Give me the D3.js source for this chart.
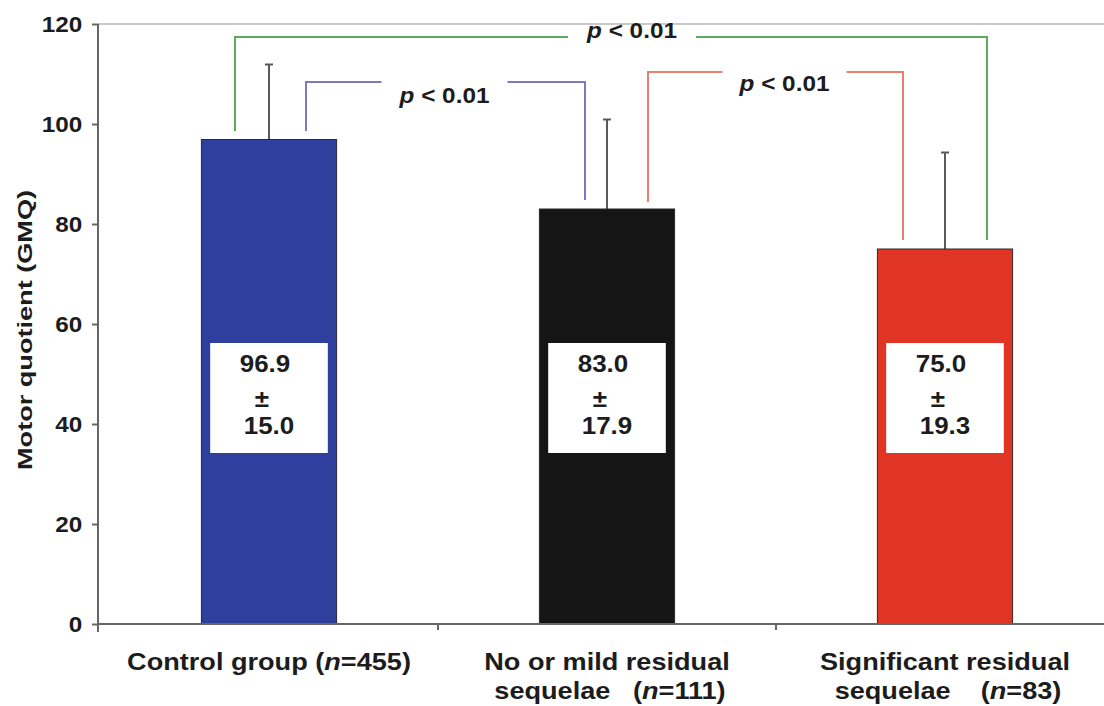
<!DOCTYPE html>
<html>
<head>
<meta charset="utf-8">
<script src="https://cdn.jsdelivr.net/npm/d3@7/dist/d3.min.js"></script>
<style>
  html, body { margin: 0; padding: 0; background: #fff; }
  svg { display: block; }
  text { font-family: "Liberation Sans", Arial, Helvetica, sans-serif; font-weight: bold; fill: #1c1c1c; }
</style>
</head>
<body>
<svg id="chart" width="1104" height="706"></svg>
<script>
// Group means and standard deviations of the gross motor quotient
const groups = ["control", "mild", "significant"];
const labelLines = [
  [["Control group (", "n", "=455)"]],
  [["No or mild residual"], ["sequelae   (", "n", "=111)"]],
  [["Significant residual"], ["sequelae    (", "n", "=83)"]]
];
const means = [96.9, 83.0, 75.0];
const sds = [15.0, 17.9, 19.3];
const barColors = ["#2e3f9e", "#151515", "#e03424"];
const yTicks = [0, 20, 40, 60, 80, 100, 120];
// Pairwise comparisons: [left group, right group, label]
const comparisons = [
  ["control", "significant", "< 0.01"],
  ["control", "mild", "< 0.01"],
  ["mild", "significant", "< 0.01"]
];

// Bracket geometry (values in GMQ units, offsets in px from bar centres)
const bracketLayout = [
  { color: "#5aac5c", top: 117.4, lowL: 98.6, lowR: 76.8, dxL: -34, dxR: 42, gap: 64, labelDx: 21, labelDy: 1 },
  { color: "#7a7abd", top: 108.4, lowL: 98.6, lowR: 84.8, dxL: 37, dxR: -22, gap: 63, labelDx: -1, labelDy: 21 },
  { color: "#e8806e", top: 110.4, lowL: 84.4, lowR: 76.8, dxL: 41, dxR: -42, gap: 62, labelDx: 9, labelDy: 19 }
];

const svg = d3.select("#chart");
const SX = 1.13; // horizontal text stretch

const x = d3.scaleBand().domain(groups).range([100, 1114]).padding(0);
const y = d3.scaleLinear().domain([0, 120]).range([624, 24]);
const barW = x.bandwidth() * 0.4;
const cx = g => x(g) + x.bandwidth() / 2;

// gridline at the top of the scale
svg.append("line")
  .attr("x1", 98).attr("x2", 1104)
  .attr("y1", y(120)).attr("y2", y(120))
  .attr("stroke", "#c9c9c9").attr("stroke-width", 2);

// brackets
comparisons.forEach((c, i) => {
  const L = bracketLayout[i];
  const xl = cx(c[0]) + L.dxL, xr = cx(c[1]) + L.dxR;
  const mid = (xl + xr) / 2 + L.labelDx;
  const g = svg.append("g");
  const yt = y(L.top);
  g.append("path")
    .attr("d", `M${xl},${y(L.lowL)}V${yt}H${mid - L.gap}`)
    .attr("fill", "none").attr("stroke", L.color).attr("stroke-width", 2);
  g.append("path")
    .attr("d", `M${mid + L.gap},${yt}H${xr}V${y(L.lowR)}`)
    .attr("fill", "none").attr("stroke", L.color).attr("stroke-width", 2);
  const t = g.append("g").attr("transform", `translate(${mid},${yt + L.labelDy}) scale(${SX},1)`)
    .append("text").attr("text-anchor", "middle").style("font-size", "21.5px");
  t.append("tspan").style("font-style", "italic").text("p");
  t.append("tspan").text(" " + c[2]);
});

// error bars (upper only)
groups.forEach((g, i) => {
  const xc = cx(g);
  svg.append("line").attr("x1", xc).attr("x2", xc)
    .attr("y1", y(means[i])).attr("y2", y(means[i] + sds[i]))
    .attr("stroke", "#5a5a5a").attr("stroke-width", 2);
  svg.append("line").attr("x1", xc - 4).attr("x2", xc + 4)
    .attr("y1", y(means[i] + sds[i])).attr("y2", y(means[i] + sds[i]))
    .attr("stroke", "#5a5a5a").attr("stroke-width", 2);
});

// bars
svg.selectAll("rect.bar").data(groups).join("rect")
  .attr("class", "bar")
  .attr("x", g => cx(g) - barW / 2)
  .attr("width", barW)
  .attr("y", (g, i) => y(means[i]))
  .attr("height", (g, i) => y(0) - y(means[i]))
  .attr("fill", (g, i) => barColors[i])
  .attr("stroke", "#2a2a2a").attr("stroke-width", 1);

// value boxes
const boxW = barW * 0.87;
groups.forEach((g, i) => {
  const xc = cx(g);
  svg.append("rect")
    .attr("x", xc - boxW / 2).attr("width", boxW)
    .attr("y", 343).attr("height", 110)
    .attr("fill", "#fff");
  const lines = [means[i].toFixed(1), "±", sds[i].toFixed(1)];
  const ys = [372, 407, 434];
  const dx = [-4, -7, 0];
  lines.forEach((s, k) => {
    svg.append("g").attr("transform", `translate(${xc + dx[k]},${ys[k]}) scale(${SX},1)`)
      .append("text").attr("text-anchor", "middle").style("font-size", "23px").text(s);
  });
});

// y axis
const yAxis = svg.append("g").attr("transform", "translate(98,0)")
  .call(d3.axisLeft(y).tickValues(yTicks).tickSize(6).tickPadding(8).tickFormat(d3.format("d")));
yAxis.select(".domain").attr("stroke", "#666").attr("stroke-width", 2)
  .attr("d", `M0,${y(120)}V${y(0) + 8}`);
yAxis.selectAll(".tick line").attr("stroke", "#666").attr("stroke-width", 2);
yAxis.selectAll(".tick text")
  .attr("transform", `scale(${SX},1)`)
  .style("font-size", "21.5px").attr("fill", "#1c1c1c").attr("dy", "0.36em");

// x axis
svg.append("line").attr("x1", 97).attr("x2", 1104)
  .attr("y1", y(0)).attr("y2", y(0))
  .attr("stroke", "#666").attr("stroke-width", 2);
groups.slice(1).forEach(g => {
  svg.append("line").attr("x1", x(g)).attr("x2", x(g))
    .attr("y1", y(0)).attr("y2", y(0) + 6)
    .attr("stroke", "#666").attr("stroke-width", 2);
});

// category labels
groups.forEach((g, i) => {
  labelLines[i].forEach((parts, k) => {
    const t = svg.append("g")
      .attr("transform", `translate(${cx(g) + (k ? 3 : 0)},${670 + k * 29}) scale(${SX},1)`)
      .append("text").attr("text-anchor", "middle")
      .attr("xml:space", "preserve").style("white-space", "pre")
      .style("font-size", "24px");
    parts.forEach((p, j) => {
      t.append("tspan").style("font-style", j === 1 ? "italic" : "normal").text(p);
    });
  });
});

// y axis title
svg.append("text")
  .attr("transform", "translate(32,330) rotate(-90)")
  .attr("text-anchor", "middle")
  .attr("textLength", 280).attr("lengthAdjust", "spacingAndGlyphs")
  .style("font-size", "21px")
  .text("Motor quotient (GMQ)");
</script>
</body>
</html>
